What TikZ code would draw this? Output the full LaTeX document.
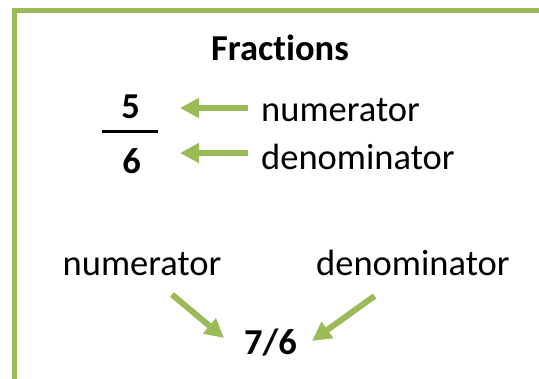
\documentclass[tikz,border=0pt]{standalone}
\usepackage{fontspec}
\setmainfont{Carlito}[Ligatures={NoCommon}]
\usetikzlibrary{arrows.meta}
\definecolor{frgreen}{HTML}{9BBB59}
\begin{document}
\begin{tikzpicture}[x=1pt,y=-1pt,
  lbl/.style={inner sep=0pt,anchor=base west,font=\fontsize{36.5}{40}\selectfont},
  bigb/.style={inner sep=0pt,anchor=base,font=\fontsize{36.5}{40}\selectfont\bfseries},
  digit/.style={inner sep=0pt,anchor=base,font=\fontsize{36.5}{40}\selectfont\bfseries},
  garrow/.style={draw=frgreen,line width=6pt,-{Triangle[width=19pt,length=19pt]},color=frgreen}]
\useasboundingbox (0,0) rectangle (539,379);
\clip (0,0) rectangle (539,379);
\fill[white] (0,0) rectangle (539,379);
\draw[frgreen,line width=5pt] (14.5,11) rectangle (600,420);
\node[bigb] (title) at (280,61) {Fractions};
\node[digit] (five) at (130.5,118.5) {5};
\node[digit] (six) at (131.5,173.5) {6};
\draw[line width=3pt] (102,131.5) -- (158,131.5);
\node[lbl] (num1) at (261,122) {numerator};
\node[lbl] (den1) at (261,170) {denominator};
\coordinate (n1t) at (248,108);
\coordinate (n1h) at (180,108);
\coordinate (d1t) at (248,153);
\coordinate (d1h) at (180,153);
\draw[garrow] (n1t) -- (n1h);
\draw[garrow] (d1t) -- (d1h);
\node[lbl] (num2) at (62.5,275.5) {numerator};
\node[lbl] (den2) at (316,275.5) {denominator};
\node[bigb] (res) at (270.5,355) {7/6};
\coordinate (n2t) at (172,294.5);
\coordinate (n2h) at (224,338);
\coordinate (d2t) at (374.5,296);
\coordinate (d2h) at (312,341);
\draw[garrow] (n2t) -- (n2h);
\draw[garrow] (d2t) -- (d2h);
\end{tikzpicture}
\end{document}
